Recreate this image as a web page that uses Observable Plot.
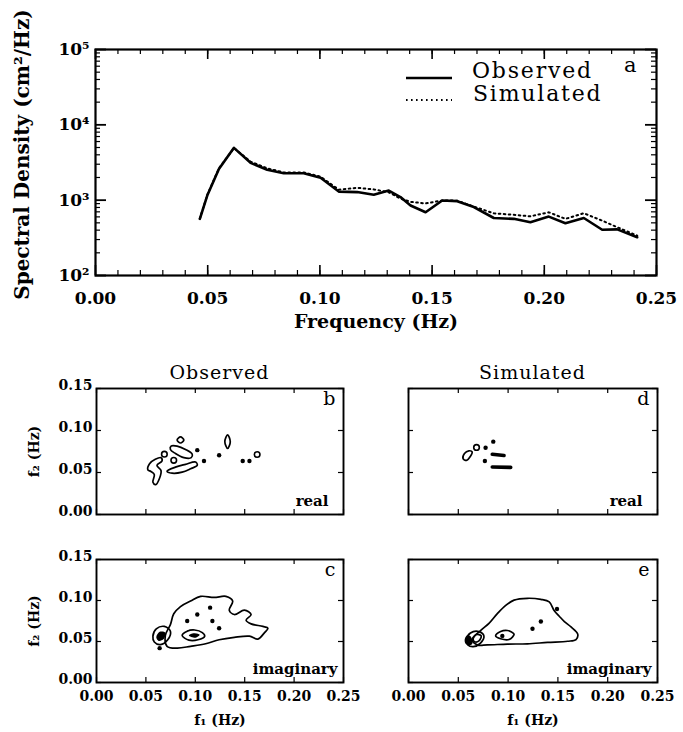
<!DOCTYPE html>
<html><head><meta charset="utf-8">
<script src="https://cdn.jsdelivr.net/npm/d3@7"></script>
<script src="https://cdn.jsdelivr.net/npm/@observablehq/plot@0.6"></script>
<style>
body{margin:0;background:#fff;}
#root{position:relative;width:683px;height:732px;overflow:hidden;background:#fff;font-family:"DejaVu Serif",serif;color:#000;}
#root svg{position:absolute;background:transparent;max-width:none;overflow:visible;}
.lbl{position:absolute;white-space:nowrap;line-height:1;}
</style></head><body><div id="root"></div><script>
// ---------- Panel a data ----------
const freqHz = [0.0465,0.0498,0.0550,0.0617,0.0691,0.0765,0.0839,0.0928,0.1003,0.1084,0.1166,0.1240,0.1307,0.1359,0.1404,0.1471,0.1545,0.1612,0.1686,0.1775,0.1864,0.1938,0.2020,0.2094,0.2176,0.2258,0.2325,0.2414];
const observedDensity = [565,1150,2600,4950,3130,2530,2280,2280,1980,1300,1280,1180,1340,1100,850,690,990,970,810,580,565,510,605,495,580,405,410,322];
const simulatedDensity = [570,1170,2650,4900,3250,2650,2330,2330,2050,1380,1460,1390,1270,1050,950,905,990,985,820,670,640,610,690,565,670,535,437,339];
const freqTicks = [0,0.05,0.10,0.15,0.20,0.25];
const densityTicks = [100,1000,10000,100000];
const densityTickLabels = ["10²","10³","10⁴","10⁵"];
const legendLabels = ["Observed","Simulated"];
const columnTitles = ["Observed","Simulated"];
const panelLetters = ["a","b","c","d","e"];
const partLabels = ["real","imaginary"];
const f1Ticks = [0,0.05,0.10,0.15,0.20,0.25];
const f2Ticks = [0,0.05,0.10,0.15];

// ---------- Panel b (observed, real) ----------
const obsRealContours = [
  [[0.0520,0.0532],[0.0537,0.0605],[0.0595,0.0657],[0.0653,0.0677],[0.0663,0.0637],[0.0612,0.0585],[0.0653,0.0524],[0.0639,0.0435],[0.0599,0.0355],[0.0571,0.0383],[0.0585,0.0476],[0.0551,0.0512]],
  [[0.0816,0.0887],[0.0850,0.0923],[0.0884,0.0887],[0.0850,0.0851]],
  [[0.0755,0.0814],[0.0816,0.0814],[0.0901,0.0774],[0.0969,0.0718],[0.0959,0.0677],[0.0884,0.0677],[0.0799,0.0726],[0.0748,0.0774]],
  [[0.0714,0.0516],[0.0799,0.0564],[0.0901,0.0597],[0.1003,0.0625],[0.1020,0.0585],[0.0952,0.0544],[0.0867,0.0504],[0.0765,0.0492]],
  [[0.1327,0.0948],[0.1354,0.0867],[0.1327,0.0786],[0.1299,0.0867]]
];
const obsRealFilled = [];
const obsRealLoops = [[0.0687,0.0718],[0.0782,0.0645],[0.1626,0.0714]];
const obsRealDots = [[0.1088,0.0637],[0.1241,0.0706],[0.1480,0.0637],[0.1548,0.0637],[0.1020,0.0766]];
const obsRealBars = [];

// ---------- Panel c (observed, imaginary) ----------
const obsImagContours = [
  [[0.0714,0.0441],[0.0697,0.0574],[0.0748,0.0706],[0.0782,0.0838],[0.0850,0.0926],[0.0952,0.0993],[0.1054,0.1050],[0.1190,0.1037],[0.1310,0.1050],[0.1378,0.0993],[0.1344,0.0882],[0.1395,0.0829],[0.1497,0.0882],[0.1565,0.0829],[0.1514,0.0759],[0.1565,0.0715],[0.1684,0.0684],[0.1735,0.0662],[0.1701,0.0609],[0.1633,0.0529],[0.1548,0.0565],[0.1395,0.0551],[0.1241,0.0521],[0.1105,0.0472],[0.0952,0.0441],[0.0816,0.0419]],
  [[0.0571,0.0565],[0.0605,0.0653],[0.0687,0.0684],[0.0748,0.0626],[0.0721,0.0521],[0.0646,0.0463],[0.0585,0.0494]],
  [[0.0867,0.0574],[0.0918,0.0626],[0.0993,0.0640],[0.1071,0.0609],[0.1095,0.0565],[0.1027,0.0521],[0.0935,0.0516]]
];
const obsImagFilled = [
  [[0.0605,0.0551],[0.0639,0.0618],[0.0697,0.0609],[0.0680,0.0529],[0.0629,0.0507]],
  [[0.0935,0.0574],[0.0986,0.0600],[0.1044,0.0582],[0.1003,0.0547]]
];
const obsImagLoops = [];
const obsImagDots = [[0.0639,0.0419],[0.0918,0.0750],[0.1020,0.0829],[0.1150,0.0913],[0.1173,0.0750],[0.1241,0.0662]];
const obsImagBars = [];

// ---------- Panel d (simulated, real) ----------
const simRealContours = [
  [[0.0548,0.0665],[0.0562,0.0726],[0.0606,0.0758],[0.0639,0.0746],[0.0622,0.0694],[0.0582,0.0645]]
];
const simRealFilled = [];
const simRealLoops = [[0.0683,0.0798]];
const simRealDots = [[0.0774,0.0794],[0.0851,0.0867],[0.0767,0.0637]];
const simRealBars = [
  [[0.0841,0.0718],[0.0959,0.0702]],
  [[0.0841,0.0565],[0.1026,0.0561]]
];

// ---------- Panel e (simulated, imaginary) ----------
const simImagContours = [
  [[0.0639,0.0524],[0.0723,0.0634],[0.0808,0.0721],[0.0892,0.0839],[0.0976,0.0940],[0.1060,0.1005],[0.1194,0.1027],[0.1329,0.1014],[0.1413,0.0983],[0.1464,0.0874],[0.1514,0.0808],[0.1565,0.0743],[0.1632,0.0677],[0.1699,0.0590],[0.1682,0.0524],[0.1598,0.0503],[0.1396,0.0489],[0.1194,0.0472],[0.0993,0.0468],[0.0791,0.0459],[0.0690,0.0459]],
  [[0.0582,0.0524],[0.0622,0.0603],[0.0707,0.0621],[0.0757,0.0568],[0.0723,0.0481],[0.0649,0.0437],[0.0596,0.0459]],
  [[0.0649,0.0533],[0.0683,0.0586],[0.0730,0.0568],[0.0707,0.0507],[0.0663,0.0498]],
  [[0.0875,0.0568],[0.0925,0.0621],[0.0993,0.0634],[0.1060,0.0590],[0.1009,0.0524],[0.0925,0.0533]]
];
const simImagFilled = [
  [[0.0565,0.0530],[0.0590,0.0575],[0.0625,0.0560],[0.0640,0.0470],[0.0600,0.0455],[0.0570,0.0480]]
];
const simImagLoops = [];
const simImagDots = [[0.0942,0.0568],[0.1245,0.0655],[0.1329,0.0743],[0.1491,0.0896]];
const simImagBars = [];

// ---------- helpers ----------
const FONT = "DejaVu Serif";
const root = document.getElementById("root");
function place(node, left, top){ node.style.position="absolute"; node.style.left=left+"px"; node.style.top=top+"px"; root.appendChild(node); }
function label(text, x, y, css, anchor){ const d=document.createElement("div"); d.className="lbl"; d.textContent=text; Object.assign(d.style, css); root.appendChild(d); const r=d.getBoundingClientRect(); const w=r.width, h=r.height; d.style.left=(anchor==="middle"? x-w/2 : x)+"px"; d.style.top=(y-h/2)+"px"; return d; }
function toRows(list){ return list.flatMap((pts,id)=>pts.map(([f1,f2])=>({f1,f2,id}))); }

// ---------- Panel a ----------
{
  const W=683,H=340, L=95,R=656,T=49,B=275;
  const fh=B-T, fw=R-L;
  const obsRows = freqHz.map((f,i)=>({f, v:observedDensity[i]}));
  const simRows = freqHz.map((f,i)=>({f, v:simulatedDensity[i]}));
  const minorFreq = d3.range(0,26).map(i=>i/100);
  const minorDens = densityTicks.slice(0,3).flatMap(d=>d3.range(2,10).map(k=>d*k));
  const p = Plot.plot({
    width:W, height:H, marginLeft:L, marginRight:W-R, marginTop:T, marginBottom:H-B,
    style:{fontFamily:FONT, fontSize:"17px", fontWeight:"bold", background:"transparent", color:"#000", overflow:"visible"},
    x:{domain:[0,0.25], ticks:freqTicks, tickFormat:d3.format(".2f"), tickSize:0, tickPadding:16, label:null},
    y:{type:"log", domain:[100,100000], ticks:densityTicks, tickFormat:(d)=>densityTickLabels[densityTicks.indexOf(d)], tickSize:0, tickPadding:6, label:null},
    marks:[
      Plot.ruleX(minorFreq,{x:d=>d, insetTop:fh-5, strokeWidth:1.2}),
      Plot.ruleX(minorFreq,{x:d=>d, insetBottom:fh-5, strokeWidth:1.2}),
      Plot.ruleX(freqTicks,{x:d=>d, insetTop:fh-10, strokeWidth:1.6}),
      Plot.ruleX(freqTicks,{x:d=>d, insetBottom:fh-10, strokeWidth:1.6}),
      Plot.ruleY(minorDens,{y:d=>d, insetRight:fw-5, strokeWidth:1.2}),
      Plot.ruleY(minorDens,{y:d=>d, insetLeft:fw-5, strokeWidth:1.2}),
      Plot.ruleY(densityTicks,{y:d=>d, insetRight:fw-11, strokeWidth:1.8}),
      Plot.ruleY(densityTicks,{y:d=>d, insetLeft:fw-11, strokeWidth:1.8}),
      Plot.frame({strokeWidth:2.2}),
      Plot.line(simRows,{x:"f", y:"v", strokeWidth:2, strokeDasharray:"1.6,3.4"}),
      Plot.line(obsRows,{x:"f", y:"v", strokeWidth:2.6, strokeLinejoin:"round"}),
      Plot.text([panelLetters[0]],{text:d=>d, frameAnchor:"top-right", textAnchor:"end", lineAnchor:"top", dx:-20, dy:8, fontSize:21, fontWeight:"normal", fontFamily:FONT}),
      Plot.text(["Frequency (Hz)"],{text:d=>d, frameAnchor:"bottom", textAnchor:"middle", lineAnchor:"middle", dy:46, fontSize:19, fontWeight:"bold", fontFamily:FONT, letterSpacing:"0.5px"}),
      Plot.text(["Spectral Density (cm²/Hz)"],{text:d=>d, frameAnchor:"left", textAnchor:"middle", lineAnchor:"middle", rotate:-90, dx:-73, dy:-8, fontSize:20, fontWeight:"bold", fontFamily:FONT, letterSpacing:"0.7px"})
    ]
  });
  place(p,0,0);
  // legend
  const lg = d3.create("svg").attr("width",60).attr("height",40);
  lg.append("line").attr("x1",2).attr("x2",48).attr("y1",8).attr("y2",8).attr("stroke","#000").attr("stroke-width",2.6);
  lg.append("line").attr("x1",2).attr("x2",48).attr("y1",30).attr("y2",30).attr("stroke","#000").attr("stroke-width",2).attr("stroke-dasharray","1.6,3.4");
  place(lg.node(),404,70);
  const lcss={fontFamily:FONT, fontSize:"22px", letterSpacing:"1.8px"};
  label(legendLabels[0],472,71,lcss,"start");
  label(legendLabels[1],473,94,lcss,"start");
}

// ---------- bispectrum panels ----------
function bispectrum(o){
  const mL=96, mR=14, mT=12, mB=o.xAxis?48:14;
  const W=mL+o.w+mR, H=mT+o.h+mB;
  const txt={fontFamily:FONT};
  const marks=[
    Plot.ruleX(f1Ticks,{x:d=>d, insetTop:o.h-5, strokeWidth:1.2}),
    Plot.ruleX(f1Ticks,{x:d=>d, insetBottom:o.h-5, strokeWidth:1.2}),
    Plot.ruleY(f2Ticks,{y:d=>d, insetRight:o.w-5, strokeWidth:1.2}),
    Plot.ruleY(f2Ticks,{y:d=>d, insetLeft:o.w-5, strokeWidth:1.2}),
    Plot.frame({strokeWidth:1.9}),
    Plot.line(toRows(o.contours),{x:"f1", y:"f2", z:"id", curve:"catmull-rom-closed", strokeWidth:1.7}),
    Plot.line(toRows(o.filled),{x:"f1", y:"f2", z:"id", curve:"catmull-rom-closed", fill:"black", strokeWidth:1.5}),
    Plot.line(toRows(o.bars),{x:"f1", y:"f2", z:"id", strokeWidth:3.6}),
    Plot.dot(o.loops,{x:d=>d[0], y:d=>d[1], r:2.8, stroke:"black", strokeWidth:1.6, fill:"white"}),
    Plot.dot(o.dots,{x:d=>d[0], y:d=>d[1], r:2.2, fill:"black"}),
    Plot.text([o.letter],{text:d=>d, frameAnchor:"top-right", textAnchor:"end", lineAnchor:"top", dx:-8, dy:3, fontSize:19, fontWeight:"normal", ...txt}),
    Plot.text([o.part],{text:d=>d, frameAnchor:"bottom-right", textAnchor:"end", lineAnchor:"bottom", dx:o.partDx, dy:-9, fontSize:15, fontWeight:"bold", ...txt})
  ];
  if(o.yAxis){
    marks.push(Plot.axisY(f2Ticks,{tickFormat:d3.format(".2f"), tickSize:0, tickPadding:4, dy:-3, fontSize:14, fontWeight:"bold", label:null}));
    marks.push(Plot.text(["f₂ (Hz)"],{text:d=>d, frameAnchor:"left", textAnchor:"middle", lineAnchor:"middle", rotate:-90, dx:-62, fontSize:14, fontWeight:"bold", ...txt}));
  }
  if(o.xAxis){
    marks.push(Plot.axisX(f1Ticks,{tickFormat:d3.format(".2f"), tickSize:0, tickPadding:9, fontSize:14, fontWeight:"bold", label:null}));
    marks.push(Plot.text(["f₁ (Hz)"],{text:d=>d, frameAnchor:"bottom", textAnchor:"middle", lineAnchor:"middle", dy:38, fontSize:14, fontWeight:"bold", ...txt}));
  }
  const p = Plot.plot({
    width:W, height:H, marginLeft:mL, marginRight:mR, marginTop:mT, marginBottom:mB,
    style:{fontFamily:FONT, fontSize:"14px", fontWeight:"bold", background:"transparent", color:"#000", overflow:"visible"},
    x:{domain:[0,0.25], axis:null},
    y:{domain:[0,0.15], axis:null},
    marks
  });
  place(p, o.left-mL, o.top-mT);
}

bispectrum({left:96, top:388, w:247, h:126, xAxis:false, yAxis:true, contours:obsRealContours, filled:obsRealFilled, loops:obsRealLoops, dots:obsRealDots, bars:obsRealBars, letter:panelLetters[1], part:partLabels[0], partDx:-15});
bispectrum({left:96, top:559, w:247, h:123, xAxis:true, yAxis:true, contours:obsImagContours, filled:obsImagFilled, loops:obsImagLoops, dots:obsImagDots, bars:obsImagBars, letter:panelLetters[2], part:partLabels[1], partDx:-6});
bispectrum({left:408, top:388, w:249, h:126, xAxis:false, yAxis:false, contours:simRealContours, filled:simRealFilled, loops:simRealLoops, dots:simRealDots, bars:simRealBars, letter:panelLetters[3], part:partLabels[0], partDx:-15});
bispectrum({left:408, top:559, w:249, h:123, xAxis:true, yAxis:false, contours:simImagContours, filled:simImagFilled, loops:simImagLoops, dots:simImagDots, bars:simImagBars, letter:panelLetters[4], part:partLabels[1], partDx:-6});

const tcss={fontFamily:FONT, fontSize:"19px", letterSpacing:"1px"};
label(columnTitles[0],219.5,372,tcss,"middle");
label(columnTitles[1],532.5,372,tcss,"middle");
</script></body></html>
